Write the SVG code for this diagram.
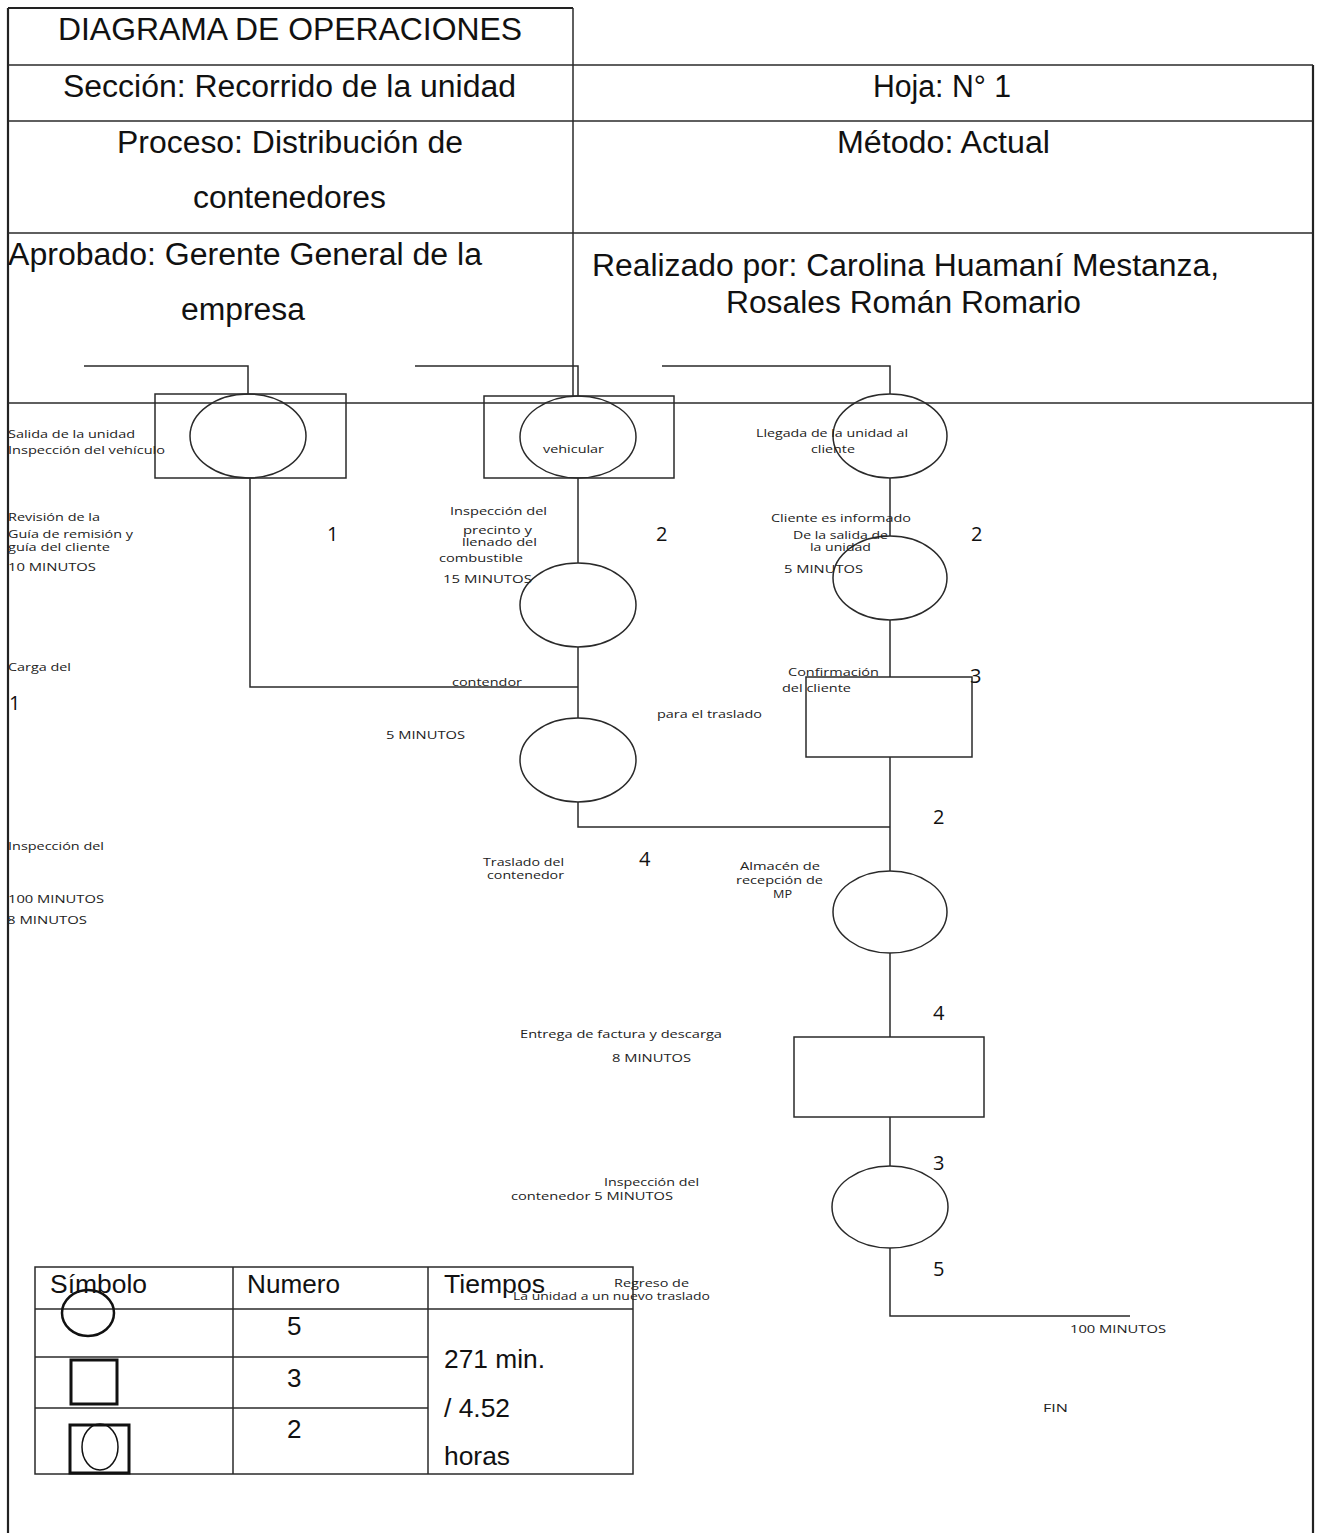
<svg xmlns="http://www.w3.org/2000/svg" width="1321" height="1533" viewBox="0 0 1321 1533">
  <style>
    .ln { fill: none; stroke: #2a2a2a; stroke-width: 1.5; }
    .frame { fill: none; stroke: #222; stroke-width: 2.2; }
    .shape { fill: none; stroke: #2a2a2a; stroke-width: 1.5; }
    .hd { font-family: "Liberation Sans", Arial, sans-serif; font-size: 31px; fill: #111; }
    .lg { font-family: "Liberation Sans", Arial, sans-serif; font-size: 26px; fill: #111; }
    .sm { font-family: "Open Sans", "DejaVu Sans", sans-serif; font-size: 11px; fill: #222; }
    .num { font-family: "Open Sans", "DejaVu Sans", sans-serif; font-size: 20px; fill: #111; }
  </style>

  <rect width="1321" height="1533" fill="#fff"/>

  <!-- sheet header grid -->
  <g id="header">
    <line class="frame" x1="8" y1="8" x2="573" y2="8"/>
    <line class="frame" x1="8" y1="8" x2="8" y2="1533"/>
    <line class="frame" x1="1313" y1="65" x2="1313" y2="1533"/>
    <line class="ln" x1="573" y1="8" x2="573" y2="396"/>
    <line class="ln" x1="8" y1="65" x2="1313" y2="65"/>
    <line class="ln" x1="8" y1="121" x2="1313" y2="121"/>
    <line class="ln" x1="8" y1="233" x2="1313" y2="233"/>
    <line class="ln" x1="8" y1="403" x2="1313" y2="403"/>

    <text class="hd" x="58" y="40" textLength="464" lengthAdjust="spacingAndGlyphs">DIAGRAMA DE OPERACIONES</text>
    <text class="hd" x="63" y="97" textLength="453" lengthAdjust="spacingAndGlyphs">Sección: Recorrido de la unidad</text>
    <text class="hd" x="873" y="97" textLength="138" lengthAdjust="spacingAndGlyphs">Hoja: N° 1</text>
    <text class="hd" x="117" y="153" textLength="346" lengthAdjust="spacingAndGlyphs">Proceso: Distribución de</text>
    <text class="hd" x="193" y="208" textLength="193" lengthAdjust="spacingAndGlyphs">contenedores</text>
    <text class="hd" x="837" y="153" textLength="213" lengthAdjust="spacingAndGlyphs">Método: Actual</text>
    <text class="hd" x="8" y="265" textLength="474" lengthAdjust="spacingAndGlyphs">Aprobado: Gerente General de la</text>
    <text class="hd" x="181" y="320" textLength="124" lengthAdjust="spacingAndGlyphs">empresa</text>
    <text class="hd" x="592" y="276" textLength="627" lengthAdjust="spacingAndGlyphs">Realizado por: Carolina Huamaní Mestanza,</text>
    <text class="hd" x="726" y="313" textLength="355" lengthAdjust="spacingAndGlyphs">Rosales Román Romario</text>
  </g>

  <!-- flow lines -->
  <g id="connectors">
    <polyline class="ln" points="84,366 248,366 248,394"/>
    <polyline class="ln" points="415,366 578,366 578,396"/>
    <polyline class="ln" points="662,366 890,366 890,394"/>
    <polyline class="ln" points="250,478 250,687 578,687"/>
    <line class="ln" x1="578" y1="478" x2="578" y2="563"/>
    <line class="ln" x1="578" y1="647" x2="578" y2="718"/>
    <polyline class="ln" points="578,802 578,827 890,827"/>
    <line class="ln" x1="890" y1="478" x2="890" y2="536"/>
    <line class="ln" x1="890" y1="620" x2="890" y2="677"/>
    <line class="ln" x1="890" y1="757" x2="890" y2="871"/>
    <line class="ln" x1="890" y1="953" x2="890" y2="1037"/>
    <line class="ln" x1="890" y1="1117" x2="890" y2="1166"/>
    <polyline class="ln" points="890,1248 890,1316 1130,1316"/>
  </g>

  <!-- combined activities -->
  <g id="combined-1">
    <rect class="shape" x="155" y="394" width="191" height="84"/>
    <ellipse class="shape" cx="248" cy="436" rx="58" ry="42"/>
  </g>
  <g id="combined-2">
    <rect class="shape" x="484" y="396" width="190" height="82"/>
    <ellipse class="shape" cx="578" cy="437" rx="58" ry="41"/>
  </g>

  <!-- operations -->
  <g id="op-arrival"><ellipse class="shape" cx="890" cy="436" rx="57" ry="42"/></g>
  <g id="op-seal"><ellipse class="shape" cx="578" cy="605" rx="58" ry="42"/></g>
  <g id="op-notice"><ellipse class="shape" cx="890" cy="578" rx="57" ry="42"/></g>
  <g id="op-transfer"><ellipse class="shape" cx="578" cy="760" rx="58" ry="42"/></g>
  <g id="op-storage"><ellipse class="shape" cx="890" cy="912" rx="57" ry="41"/></g>
  <g id="op-return"><ellipse class="shape" cx="890" cy="1207" rx="58" ry="41"/></g>

  <!-- inspections -->
  <g id="insp-confirm"><rect class="shape" x="806" y="677" width="166" height="80"/></g>
  <g id="insp-invoice"><rect class="shape" x="794" y="1037" width="190" height="80"/></g>

  <!-- activity notes -->
  <g id="labels">
    <text class="sm" x="8" y="438" textLength="127" lengthAdjust="spacingAndGlyphs">Salida de la unidad</text>
    <text class="sm" x="8" y="454" textLength="157" lengthAdjust="spacingAndGlyphs">Inspección del vehículo</text>
    <text class="sm" x="8" y="521" textLength="92" lengthAdjust="spacingAndGlyphs">Revisión de la</text>
    <text class="sm" x="8" y="538" textLength="125" lengthAdjust="spacingAndGlyphs">Guía de remisión y</text>
    <text class="sm" x="8" y="551" textLength="102" lengthAdjust="spacingAndGlyphs">guía del cliente</text>
    <text class="sm" x="8" y="571" textLength="88" lengthAdjust="spacingAndGlyphs">10 MINUTOS</text>
    <text class="sm" x="8" y="671" textLength="63" lengthAdjust="spacingAndGlyphs">Carga del</text>
    <text class="sm" x="8" y="850" textLength="96" lengthAdjust="spacingAndGlyphs">Inspección del</text>
    <text class="sm" x="8" y="903" textLength="96" lengthAdjust="spacingAndGlyphs">100 MINUTOS</text>
    <text class="sm" x="7" y="924" textLength="80" lengthAdjust="spacingAndGlyphs">8 MINUTOS</text>

    <text class="sm" x="543" y="453" textLength="61" lengthAdjust="spacingAndGlyphs">vehicular</text>
    <text class="sm" x="450" y="515" textLength="97" lengthAdjust="spacingAndGlyphs">Inspección del</text>
    <text class="sm" x="463" y="534" textLength="69" lengthAdjust="spacingAndGlyphs">precinto y</text>
    <text class="sm" x="462" y="546" textLength="75" lengthAdjust="spacingAndGlyphs">llenado del</text>
    <text class="sm" x="439" y="562" textLength="84" lengthAdjust="spacingAndGlyphs">combustible</text>
    <text class="sm" x="443" y="583" textLength="89" lengthAdjust="spacingAndGlyphs">15 MINUTOS</text>
    <text class="sm" x="452" y="686" textLength="70" lengthAdjust="spacingAndGlyphs">contendor</text>
    <text class="sm" x="386" y="739" textLength="79" lengthAdjust="spacingAndGlyphs">5 MINUTOS</text>
    <text class="sm" x="657" y="718" textLength="105" lengthAdjust="spacingAndGlyphs">para el traslado</text>
    <text class="sm" x="483" y="866" textLength="81" lengthAdjust="spacingAndGlyphs">Traslado del</text>
    <text class="sm" x="487" y="879" textLength="77" lengthAdjust="spacingAndGlyphs">contenedor</text>
    <text class="sm" x="740" y="870" textLength="80" lengthAdjust="spacingAndGlyphs">Almacén de</text>
    <text class="sm" x="736" y="884" textLength="87" lengthAdjust="spacingAndGlyphs">recepción de</text>
    <text class="sm" x="773" y="898" textLength="19" lengthAdjust="spacingAndGlyphs">MP</text>

    <text class="sm" x="756" y="437" textLength="152" lengthAdjust="spacingAndGlyphs">Llegada de la unidad al</text>
    <text class="sm" x="811" y="453" textLength="44" lengthAdjust="spacingAndGlyphs">cliente</text>
    <text class="sm" x="771" y="522" textLength="140" lengthAdjust="spacingAndGlyphs">Cliente es informado</text>
    <text class="sm" x="793" y="539" textLength="95" lengthAdjust="spacingAndGlyphs">De la salida de</text>
    <text class="sm" x="810" y="551" textLength="61" lengthAdjust="spacingAndGlyphs">la unidad</text>
    <text class="sm" x="784" y="573" textLength="79" lengthAdjust="spacingAndGlyphs">5 MINUTOS</text>
    <text class="sm" x="788" y="676" textLength="91" lengthAdjust="spacingAndGlyphs">Confirmación</text>
    <text class="sm" x="782" y="692" textLength="69" lengthAdjust="spacingAndGlyphs">del cliente</text>

    <text class="sm" x="520" y="1038" textLength="202" lengthAdjust="spacingAndGlyphs">Entrega de factura y descarga</text>
    <text class="sm" x="612" y="1062" textLength="79" lengthAdjust="spacingAndGlyphs">8 MINUTOS</text>
    <text class="sm" x="604" y="1186" textLength="95" lengthAdjust="spacingAndGlyphs">Inspección del</text>
    <text class="sm" x="511" y="1200" textLength="162" lengthAdjust="spacingAndGlyphs">contenedor 5 MINUTOS</text>
    <text class="sm" x="614" y="1287" textLength="75" lengthAdjust="spacingAndGlyphs">Regreso de</text>
    <text class="sm" x="513" y="1300" textLength="197" lengthAdjust="spacingAndGlyphs">La unidad a un nuevo traslado</text>
    <text class="sm" x="1070" y="1333" textLength="96" lengthAdjust="spacingAndGlyphs">100 MINUTOS</text>
    <text class="sm" x="1043" y="1412" textLength="25" lengthAdjust="spacingAndGlyphs">FIN</text>
  </g>

  <!-- step numbers -->
  <g id="numbers">
    <text class="num" x="327" y="541">1</text>
    <text class="num" x="656" y="541">2</text>
    <text class="num" x="971" y="541">2</text>
    <text class="num" x="970" y="683">3</text>
    <text class="num" x="933" y="824">2</text>
    <text class="num" x="639" y="866">4</text>
    <text class="num" x="933" y="1020">4</text>
    <text class="num" x="933" y="1170">3</text>
    <text class="num" x="933" y="1276">5</text>
    <text class="num" x="9" y="710">1</text>
  </g>

  <!-- summary table -->
  <g id="legend">
    <rect class="ln" x="35" y="1267" width="598" height="207" stroke-width="2"/>
    <line class="ln" x1="35" y1="1309" x2="633" y2="1309" stroke-width="2"/>
    <line class="ln" x1="35" y1="1357" x2="428" y2="1357" stroke-width="2"/>
    <line class="ln" x1="35" y1="1408" x2="428" y2="1408" stroke-width="2"/>
    <line class="ln" x1="233" y1="1267" x2="233" y2="1474" stroke-width="2"/>
    <line class="ln" x1="428" y1="1267" x2="428" y2="1474" stroke-width="2"/>

    <text class="lg" x="50" y="1293" textLength="97" lengthAdjust="spacingAndGlyphs">Símbolo</text>
    <text class="lg" x="247" y="1293" textLength="93" lengthAdjust="spacingAndGlyphs">Numero</text>
    <text class="lg" x="444" y="1293" textLength="101" lengthAdjust="spacingAndGlyphs">Tiempos</text>
    <text class="lg" x="287" y="1335">5</text>
    <text class="lg" x="287" y="1387">3</text>
    <text class="lg" x="287" y="1438">2</text>
    <text class="lg" x="444" y="1368" textLength="101" lengthAdjust="spacingAndGlyphs">271 min.</text>
    <text class="lg" x="444" y="1417" textLength="66" lengthAdjust="spacingAndGlyphs">/ 4.52</text>
    <text class="lg" x="444" y="1465" textLength="66" lengthAdjust="spacingAndGlyphs">horas</text>

    <ellipse cx="88" cy="1313" rx="26" ry="23" fill="none" stroke="#111" stroke-width="2.5"/>
    <rect x="71" y="1360" width="46" height="44" fill="none" stroke="#111" stroke-width="3"/>
    <rect x="70" y="1425" width="59" height="48" fill="none" stroke="#111" stroke-width="3"/>
    <ellipse cx="100" cy="1447" rx="18" ry="23" fill="none" stroke="#111" stroke-width="1.5"/>
  </g>
</svg>
